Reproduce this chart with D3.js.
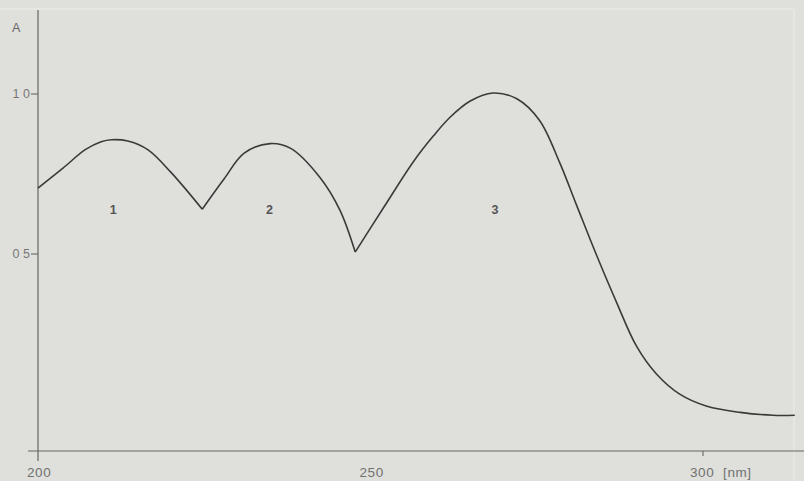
<!DOCTYPE html>
<html lang="en">
  <head>
    <meta charset="utf-8">
    <title>Absorption spectrum</title>
    <style>
      body { margin: 0; background: #dfe0dc; }
      svg { display: block; }
    </style>
  </head>
  <body>
    <svg width="804" height="481"></svg>
  </body>
  <script src="https://cdn.jsdelivr.net/npm/d3@7/dist/d3.min.js"></script>
  <script>

    // three absorption bands, joined at the sharp minima
    const band1Nm = [200, 203.8, 207.1, 209.5, 211.1, 213.5, 216.5, 220.0, 224.7],
          band1A  = [0.706, 0.769, 0.826, 0.851, 0.857, 0.853, 0.826, 0.755, 0.640]
    const band2Nm = [224.7, 228.0, 231.0, 234.9, 238.0, 242.4, 245.4, 247.7],
          band2A  = [0.640, 0.735, 0.815, 0.845, 0.830, 0.739, 0.637, 0.506]
    const band3Nm = [247.7, 252.0, 256.5, 259.5, 262.0, 265.0, 268.4, 272.0, 275.4, 278.4,
                     281.0, 284.0, 287.0, 290.0, 293.0, 296.5, 300.6, 305.6, 310.5, 313.8],
          band3A  = [0.506, 0.646, 0.790, 0.870, 0.928, 0.978, 1.003, 0.985, 0.918, 0.788,
                     0.652, 0.496, 0.349, 0.212, 0.125, 0.062, 0.024, 0.005, -0.004, -0.004]

    const bandLabels = ["1", "2", "3"],
          labelNm = [211.3, 234.8, 268.7]
    const xTicks = [200, 250, 300],
          xTickLabels = ["200", "250", "300  [nm]"]
    const yTicks = [0.5, 1.0],
          yTickLabels = ["0 5", "1 0"]

    const svg = d3.select("svg")
    const font = "'Liberation Sans', Arial, sans-serif"

    const x = d3.scaleLinear().domain([200, 250]).range([38, 370.5]),
          y = d3.scaleLinear().domain([0.5, 1.0]).range([254, 94])

    const axisY = 451, axisX = x(200)

    // faint paper edges of the scan
    svg.append("line").attr("x1", 0).attr("x2", 793).attr("y1", 9).attr("y2", 9)
      .style("stroke", "#ecede9").style("stroke-width", 1)
    svg.append("line").attr("x1", 794).attr("x2", 794).attr("y1", 9).attr("y2", 481)
      .style("stroke", "#ecede9").style("stroke-width", 1)

    // axes
    svg.append("line").attr("x1", 28).attr("x2", 804).attr("y1", axisY).attr("y2", axisY)
      .style("stroke", "#666").style("stroke-width", 1.2)
    svg.append("line").attr("x1", axisX).attr("x2", axisX).attr("y1", 10).attr("y2", 461)
      .style("stroke", "#666").style("stroke-width", 1.2)

    // y ticks
    const yt = svg.selectAll("g.ytick").data(yTicks).enter().append("g")
    yt.append("line")
      .attr("x1", axisX - 7).attr("x2", axisX)
      .attr("y1", d => y(d)).attr("y2", d => y(d))
      .style("stroke", "#666").style("stroke-width", 1.1)
    yt.append("text")
      .text((d, i) => yTickLabels[i])
      .attr("x", axisX - 8).attr("y", d => y(d) + 1)
      .attr("text-anchor", "end")
      .style("dominant-baseline", "middle")
      .style("font-family", font).style("font-size", "12.5px")
      .style("white-space", "pre")
      .style("fill", "#777")

    svg.append("text").text("A")
      .attr("x", 12).attr("y", 32)
      .style("font-family", font).style("font-size", "12.5px")
      .style("fill", "#666")

    // x ticks
    svg.append("line")
      .attr("x1", x(300)).attr("x2", x(300)).attr("y1", axisY).attr("y2", axisY + 5)
      .style("stroke", "#666").style("stroke-width", 1.1)
    svg.selectAll("text.xtick").data(xTicks).enter().append("text")
      .text((d, i) => xTickLabels[i])
      .attr("x", (d, i) => i == 2 ? x(d) - 13 : x(d) - 11)
      .attr("y", 477)
      .attr("text-anchor", "start")
      .style("font-family", font).style("font-size", "13.5px")
      .style("letter-spacing", "0.6px")
      .style("white-space", "pre")
      .style("fill", "#707070")

    // spectrum
    const line = d3.line()
      .x(d => x(d[0]))
      .y(d => y(d[1]))
      .curve(d3.curveCatmullRom.alpha(0.5))

    const bands = [[band1Nm, band1A], [band2Nm, band2A], [band3Nm, band3A]]
    svg.selectAll("path.band").data(bands).enter().append("path")
      .attr("d", b => line(b[0].map((nm, i) => [nm, b[1][i]])))
      .style("fill", "none")
      .style("stroke", "#3a3a3a")
      .style("stroke-width", 1.6)
      .style("stroke-linejoin", "round")

    svg.selectAll("text.band").data(bandLabels).enter().append("text")
      .text(d => d)
      .attr("x", (d, i) => x(labelNm[i]))
      .attr("y", 211)
      .attr("text-anchor", "middle")
      .style("dominant-baseline", "middle")
      .style("font-family", font).style("font-size", "12.5px")
      .style("font-weight", 700)
      .style("fill", "#555")

  </script>
</html>
